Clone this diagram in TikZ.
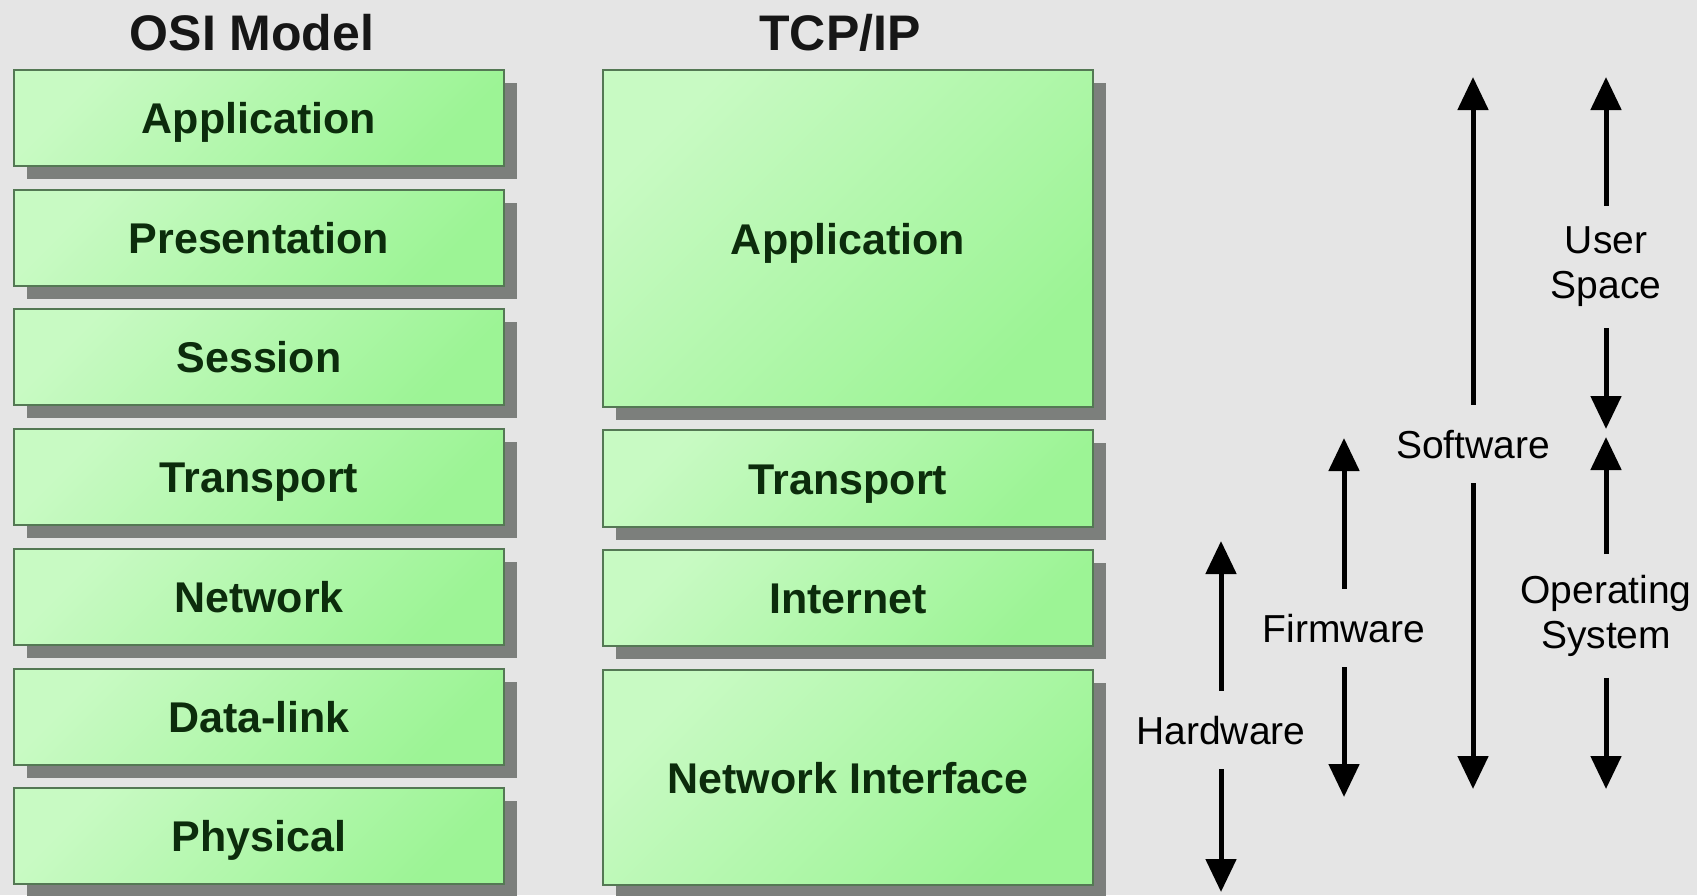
\documentclass[tikz,border=0pt]{standalone}
\usepackage{fontspec}
\setmainfont{Liberation Sans}
\usetikzlibrary{arrows.meta,shadows}
\definecolor{bgc}{RGB}{229,229,229}
\definecolor{glight}{RGB}{200,250,195}
\definecolor{gdark}{RGB}{156,244,149}
\definecolor{gborder}{RGB}{84,120,84}
\definecolor{shadowc}{RGB}{124,127,124}
\definecolor{gtext}{RGB}{12,44,12}
\definecolor{ttext}{RGB}{22,22,22}
\begin{document}
\begin{tikzpicture}[x=1pt,y=-1pt,
  layerbox/.style={draw=gborder, line width=2pt, top color=glight, bottom color=gdark,
    shading angle=45, minimum width=490pt, text=gtext,
    font=\fontsize{43}{50}\selectfont\bfseries, text height=31pt, text depth=0pt, inner sep=0pt,
    drop shadow={shadow xshift=13pt, shadow yshift=-13pt, fill=shadowc, opacity=1, draw=none}},
  titletext/.style={font=\fontsize{50}{60}\selectfont\bfseries, text=ttext, inner sep=0pt},
  sidelabel/.style={font=\fontsize{39}{45}\selectfont, text=black, inner xsep=2pt, inner ysep=25pt,
    text height=28pt, text depth=0pt},
  sidelabeltwo/.style={font=\fontsize{39}{45}\selectfont, text=black, align=center,
    inner xsep=2pt, inner ysep=21pt},
  arr/.style={line width=5pt, draw=black, -{Triangle[length=33pt,width=30pt]}}
]
\fill[bgc] (0,0) rectangle (1697,895);
\useasboundingbox (0,0) rectangle (1697,895);

% titles
\node[titletext, anchor=base] (osi) at (252,50) {OSI Model};
\node[titletext, anchor=base] (tcp) at (840,50) {TCP/IP};

% OSI layers
\node[layerbox, minimum height=96pt] (o1) at (259,118) {Application};
\node[layerbox, minimum height=96pt] (o2) at (259,237.7) {Presentation};
\node[layerbox, minimum height=96pt] (o3) at (259,357.4) {Session};
\node[layerbox, minimum height=96pt] (o4) at (259,477.1) {Transport};
\node[layerbox, minimum height=96pt] (o5) at (259,596.8) {Network};
\node[layerbox, minimum height=96pt] (o6) at (259,716.5) {Data-link};
\node[layerbox, minimum height=96pt] (o7) at (259,836.2) {Physical};

% TCP/IP layers
\node[layerbox, minimum height=337pt] (t1) at (848,238.5) {Application};
\node[layerbox, minimum height=97pt] (t2) at (848,478.5) {Transport};
\node[layerbox, minimum height=96pt] (t3) at (848,598) {Internet};
\node[layerbox, minimum height=215pt] (t4) at (848,777.5) {Network Interface};

% Hardware
\node[sidelabel] (hw) at (1221,730) {Hardware};
\coordinate (hwU) at (1221,541);
\coordinate (hwD) at (1221,892);
\draw[arr] (hw) -- (hwU);
\draw[arr] (hw) -- (hwD);

% Firmware
\node[sidelabel] (fw) at (1344,628) {Firmware};
\coordinate (fwU) at (1344,438);
\coordinate (fwD) at (1344,797);
\draw[arr] (fw) -- (fwU);
\draw[arr] (fw) -- (fwD);

% Software
\node[sidelabel] (sw) at (1473,444) {Software};
\coordinate (swU) at (1473,77);
\coordinate (swD) at (1473,789);
\draw[arr] (sw) -- (swU);
\draw[arr] (sw) -- (swD);

% User Space
\node[sidelabeltwo] (us) at (1606,267) {User\\Space};
\coordinate (usU) at (1606,77);
\coordinate (usD) at (1606,429);
\draw[arr] (us) -- (usU);
\draw[arr] (us) -- (usD);

% Operating System
\node[sidelabeltwo] (os) at (1606,616) {Operating\\System};
\coordinate (osU) at (1606,437);
\coordinate (osD) at (1606,789);
\draw[arr] (os) -- (osU);
\draw[arr] (os) -- (osD);
\end{tikzpicture}
\end{document}
